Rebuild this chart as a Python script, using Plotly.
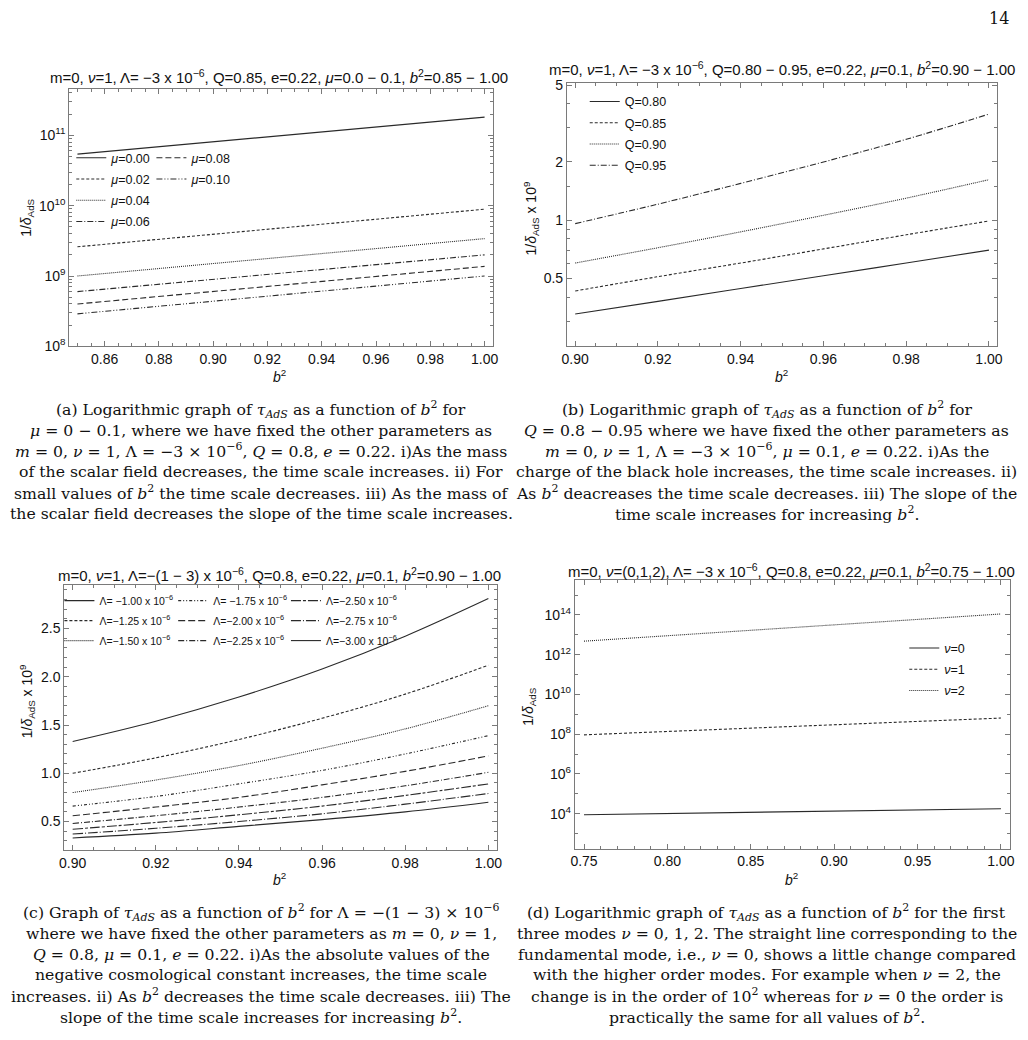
import plotly.graph_objects as go

W, H = 1028, 1040

# ---------------- data ----------------
# (a) mu = 0 - 0.1, log scale
b2_a = [0.85, 0.90, 0.95, 1.00]
mu_labels = ["0.00", "0.02", "0.04", "0.06", "0.08", "0.10"]
a_vals = [
    [5.4e10, 8.1e10, 1.22e11, 1.81e11],
    [2.6e9, 3.9e9, 5.9e9, 8.9e9],
    [1.0e9, 1.5e9, 2.25e9, 3.4e9],
    [6.0e8, 9.0e8, 1.35e9, 2.0e9],
    [4.0e8, 6.0e8, 9.0e8, 1.37e9],
    [2.9e8, 4.4e8, 6.6e8, 1.0e9],
]

# (b) Q = 0.80 - 0.95, log scale, values x 1e9
b2_b = [0.90, 0.92, 0.94, 0.96, 0.98, 1.00]
q_labels = ["0.80", "0.85", "0.90", "0.95"]
b_vals = [
    [0.327, 0.38, 0.443, 0.516, 0.60, 0.70],
    [0.43, 0.51, 0.60, 0.71, 0.84, 0.99],
    [0.60, 0.72, 0.87, 1.06, 1.30, 1.62],
    [0.96, 1.21, 1.55, 2.00, 2.62, 3.54],
]

# (c) Lambda = -(1-3)e-6, linear, values x 1e9
b2_c = [0.90, 0.92, 0.94, 0.96, 0.98, 1.00]
lam_labels = ["−1.00", "−1.25", "−1.50", "−1.75", "−2.00", "−2.25", "−2.50", "−2.75", "−3.00"]
c_vals = [
    [1.33, 1.54, 1.79, 2.08, 2.42, 2.81],
    [1.00, 1.16, 1.35, 1.57, 1.82, 2.12],
    [0.80, 0.93, 1.08, 1.26, 1.46, 1.70],
    [0.66, 0.76, 0.89, 1.03, 1.20, 1.39],
    [0.56, 0.65, 0.75, 0.88, 1.02, 1.18],
    [0.48, 0.56, 0.65, 0.75, 0.87, 1.01],
    [0.42, 0.49, 0.57, 0.66, 0.77, 0.89],
    [0.37, 0.43, 0.50, 0.58, 0.68, 0.79],
    [0.33, 0.38, 0.45, 0.52, 0.60, 0.70],
]

# (d) nu = 0,1,2, log scale
b2_d = [0.75, 0.80, 0.85, 0.90, 0.95, 1.00]
nu_labels = ["0", "1", "2"]
d_vals = [
    [8.9e3, 1.02e4, 1.17e4, 1.35e4, 1.55e4, 1.78e4],
    [9.3e7, 1.38e8, 2.04e8, 2.95e8, 4.37e8, 6.5e8],
    [4.8e12, 8.9e12, 1.7e13, 3.2e13, 6.0e13, 1.12e14],
]

# ---------------- styles ----------------
LINE_COLOR = "#2a2a2a"
FRAME = "#7a7a7a"
SANS = "Liberation Sans, Arial, sans-serif"
SERIF = "DejaVu Serif, Liberation Serif, serif"

dash_a = ["solid", "3px,2px", "1px,1px", "6px,2px,1px,2px", "6px,3px", "6px,2px,1px,2px,1px,2px"]
dash_b = ["solid", "3px,2px", "1px,1px", "6px,2px,1px,2px"]
dash_c = ["solid", "3px,2px", "1px,1px", "3px,2px,1px,2px,1px,2px", "7px,3px",
          "6px,2px,1px,2px", "10px,2px,3px,2px", "10px,2px,1px,2px", "solid"]
dash_d = ["solid", "3px,2px", "1px,1px"]


def px_x(p):
    return p / W


def px_y(p):
    return 1 - p / H


fig = go.Figure()

# (a)
for i, (lab, vals) in enumerate(zip(mu_labels, a_vals)):
    fig.add_trace(go.Scatter(
        x=b2_a, y=vals, mode="lines", name=f"<i>μ</i>={lab}",
        line=dict(color=LINE_COLOR, width=1.1, dash=dash_a[i]),
        xaxis="x", yaxis="y", legend="legend" if i < 4 else "legend2",
        legendgroup=f"a{i}"))
# (b)
for i, (lab, vals) in enumerate(zip(q_labels, b_vals)):
    fig.add_trace(go.Scatter(
        x=b2_b, y=vals, mode="lines", name=f"Q={lab}",
        line=dict(color=LINE_COLOR, width=1.1, dash=dash_b[i], shape="spline"),
        xaxis="x2", yaxis="y2", legend="legend3", legendgroup=f"b{i}"))
# (c)
for i, (lab, vals) in enumerate(zip(lam_labels, c_vals)):
    name = f"Λ={' ' if i == 0 or i == 3 else ''}{lab} x 10<sup>−6</sup>"
    fig.add_trace(go.Scatter(
        x=b2_c, y=vals, mode="lines", name=name,
        line=dict(color=LINE_COLOR, width=1.1, dash=dash_c[i], shape="spline"),
        xaxis="x3", yaxis="y3", legend=["legend4", "legend5", "legend6"][i // 3],
        legendgroup=f"c{i}"))
# (d)
for i, (lab, vals) in enumerate(zip(nu_labels, d_vals)):
    fig.add_trace(go.Scatter(
        x=b2_d, y=vals, mode="lines", name=f"<i>ν</i>={lab}",
        line=dict(color=LINE_COLOR, width=1.1, dash=dash_d[i]),
        xaxis="x4", yaxis="y4", legend="legend7", legendgroup=f"d{i}"))


def ax(**kw):
    base = dict(showline=True, linecolor=FRAME, linewidth=1, mirror="allticks",
                ticks="inside", ticklen=5, tickcolor=FRAME, tickwidth=1,
                showgrid=False, zeroline=False,
                tickfont=dict(family=SANS, size=14, color="#111"))
    base.update(kw)
    return base


def minor(vals):
    return dict(ticks="inside", ticklen=3, tickcolor=FRAME, tickmode="array", tickvals=vals, showgrid=False)


xticks_a = [0.86, 0.88, 0.90, 0.92, 0.94, 0.96, 0.98, 1.00]
xticks_bc = [0.90, 0.92, 0.94, 0.96, 0.98, 1.00]
xticks_d = [0.75, 0.80, 0.85, 0.90, 0.95, 1.00]
ytick_a = [1e8, 1e9, 1e10, 1e11]
ytick_a_text = ["10<sup>8</sup>", "10<sup>9</sup>", "10<sup>10</sup>", "10<sup>11</sup>"]
ytick_b = [0.5, 1, 2, 5]
ytick_b_text = ["0.5", "1", "2", "5"]
ytick_c = [0.5, 1.0, 1.5, 2.0, 2.5]
ytick_d = [1e4, 1e6, 1e8, 1e10, 1e12, 1e14]
ytick_d_text = ["10<sup>4</sup>", "10<sup>6</sup>", "10<sup>8</sup>", "10<sup>10</sup>",
                "10<sup>12</sup>", "10<sup>14</sup>"]

minor_ya = [m * 10 ** e for e in range(8, 12) for m in range(2, 10)]
minor_yb = [0.3, 0.4, 0.6, 0.7, 0.8, 0.9, 1.5, 3, 4]
minor_yd = [10 ** e for e in (3, 5, 7, 9, 11, 13, 15)]
minor_xa = [round(0.85 + 0.005 * k, 3) for k in range(31)]
minor_xbc = [round(0.90 + 0.005 * k, 3) for k in range(21)]
minor_xd = [round(0.75 + 0.01 * k, 3) for k in range(26)]
minor_yc = [round(0.3 + 0.1 * k, 2) for k in range(27)]

fig.update_layout(
    width=W, height=H, margin=dict(l=0, r=0, t=0, b=0),
    paper_bgcolor="white", plot_bgcolor="white",
    xaxis=ax(domain=[px_x(65), px_x(493)], range=[0.847, 1.003], anchor="y",
             tickvals=xticks_a, tickformat=".2f", minor=minor(minor_xa)),
    yaxis=ax(domain=[px_y(345), px_y(84)], type="log", range=[8, 11.66], anchor="x",
             tickvals=ytick_a, ticktext=ytick_a_text, minor=minor(minor_ya)),
    xaxis2=ax(domain=[px_x(568), px_x(1003)], range=[0.898, 1.002], anchor="y2",
              tickvals=xticks_bc, tickformat=".2f", minor=minor(minor_xbc)),
    yaxis2=ax(domain=[px_y(345), px_y(78)], type="log", range=[-0.653, 0.71], anchor="x2",
              tickvals=ytick_b, ticktext=ytick_b_text, minor=minor(minor_yb)),
    xaxis3=ax(domain=[px_x(60), px_x(497)], range=[0.898, 1.002], anchor="y3",
              tickvals=xticks_bc, tickformat=".2f", minor=minor(minor_xbc)),
    yaxis3=ax(domain=[px_y(856), px_y(587)], range=[0.2, 2.95], anchor="x3",
              tickvals=ytick_c, tickformat=".1f", minor=minor(minor_yc)),
    xaxis4=ax(domain=[px_x(576), px_x(1016)], range=[0.7445, 1.0055], anchor="y4",
              tickvals=xticks_d, tickformat=".2f", minor=minor(minor_xd)),
    yaxis4=ax(domain=[px_y(854), px_y(582)], type="log", range=[2.25, 15.75], anchor="x4",
              tickvals=ytick_d, ticktext=ytick_d_text, minor=minor(minor_yd)),
)

leg_common = dict(bgcolor="rgba(0,0,0,0)", borderwidth=0, xanchor="left", yanchor="top",
                  tracegroupgap=2, font=dict(family=SANS, size=12.5, color="#111"))
leg_c = dict(leg_common, tracegroupgap=1, font=dict(family=SANS, size=10.5, color="#111"))
fig.update_layout(
    legend=dict(leg_common, x=px_x(67), y=px_y(139)),
    legend2=dict(leg_common, x=px_x(148), y=px_y(139)),
    legend3=dict(leg_common, x=px_x(586), y=px_y(82)),
    legend4=dict(leg_c, x=px_x(55), y=px_y(588)),
    legend5=dict(leg_c, x=px_x(170), y=px_y(588)),
    legend6=dict(leg_c, x=px_x(284), y=px_y(588)),
    legend7=dict(leg_common, x=px_x(909), y=px_y(636)),
)

ann = []


def text(x, y, s, size=14, font=SANS, angle=0, xanchor="center"):
    ann.append(dict(x=px_x(x), y=px_y(y), xref="paper", yref="paper", text=s,
                    showarrow=False, xanchor=xanchor, yanchor="middle", textangle=angle,
                    font=dict(family=font, size=size, color="#111")))


# titles
text(277, 71, "m=0, <i>ν</i>=1, Λ= −3 x 10<sup>−6</sup>, Q=0.85, e=0.22, <i>μ</i>=0.0 − 0.1, <i>b</i><sup>2</sup>=0.85 − 1.00", size=15)
text(785, 63, "m=0, <i>ν</i>=1, Λ= −3 x 10<sup>−6</sup>, Q=0.80 − 0.95, e=0.22, <i>μ</i>=0.1, <i>b</i><sup>2</sup>=0.90 − 1.00", size=15)
text(277, 576, "m=0, <i>ν</i>=1, Λ=−(1 − 3) x 10<sup>−6</sup>, Q=0.8, e=0.22, <i>μ</i>=0.1, <i>b</i><sup>2</sup>=0.90 − 1.00", size=15)
text(795, 572, "m=0, <i>ν</i>=(0,1,2), Λ= −3 x 10<sup>−6</sup>, Q=0.8, e=0.22, <i>μ</i>=0.1, <i>b</i><sup>2</sup>=0.75 − 1.00", size=15)

# axis titles
text(277, 375, "<i>b</i><sup>2</sup>", size=14)
text(785, 375, "<i>b</i><sup>2</sup>", size=14)
text(277, 885, "<i>b</i><sup>2</sup>", size=14)
text(795, 885, "<i>b</i><sup>2</sup>", size=14)
text(22, 215, "1/<i>δ</i><sub>AdS</sub>", size=14, angle=-90)
text(532, 215, "1/<i>δ</i><sub>AdS</sub> x 10<sup>9</sup>", size=14, angle=-90)
text(22, 705, "1/<i>δ</i><sub>AdS</sub> x 10<sup>9</sup>", size=14, angle=-90)
text(530, 710, "1/<i>δ</i><sub>AdS</sub>", size=14, angle=-90)

# page number
text(1005, 13, "14", size=16, font=SERIF)

tau = "<i>τ<sub>AdS</sub></i>"
b2 = "<i>b</i><sup>2</sup>"
cap_a = [
    f"(a) Logarithmic graph of {tau} as a function of {b2} for",
    "<i>μ</i> = 0 − 0.1, where we have fixed the other parameters as",
    "<i>m</i> = 0, <i>ν</i> = 1, Λ = −3 × 10<sup>−6</sup>, <i>Q</i> = 0.8, <i>e</i> = 0.22. i)As the mass",
    "of the scalar field decreases, the time scale increases. ii) For",
    f"small values of {b2} the time scale decreases. iii) As the mass of",
    "the scalar field decreases the slope of the time scale increases.",
]
cap_b = [
    f"(b) Logarithmic graph of {tau} as a function of {b2} for",
    "<i>Q</i> = 0.8 − 0.95 where we have fixed the other parameters as",
    "<i>m</i> = 0, <i>ν</i> = 1, Λ = −3 × 10<sup>−6</sup>, <i>μ</i> = 0.1, <i>e</i> = 0.22. i)As the",
    "charge of the black hole increases, the time scale increases. ii)",
    f"As {b2} deacreases the time scale decreases. iii) The slope of the",
    f"time scale increases for increasing {b2}.",
]
cap_c = [
    f"(c) Graph of {tau} as a function of {b2} for Λ = −(1 − 3) × 10<sup>−6</sup>",
    "where we have fixed the other parameters as <i>m</i> = 0, <i>ν</i> = 1,",
    "<i>Q</i> = 0.8, <i>μ</i> = 0.1, <i>e</i> = 0.22. i)As the absolute values of the",
    "negative cosmological constant increases, the time scale",
    f"increases. ii) As {b2} decreases the time scale decreases. iii) The",
    f"slope of the time scale increases for increasing {b2}.",
]
cap_d = [
    f"(d) Logarithmic graph of {tau} as a function of {b2} for the first",
    "three modes <i>ν</i> = 0, 1, 2. The straight line corresponding to the",
    "fundamental mode, i.e., <i>ν</i> = 0, shows a little change compared",
    "with the higher order modes. For example when <i>ν</i> = 2, the",
    "change is in the order of 10<sup>2</sup> whereas for <i>ν</i> = 0 the order is",
    f"practically the same for all values of {b2}.",
]
cap_y_top = [409, 430, 451, 472, 493, 514]
cap_y_bot = [919, 940, 961, 982, 1003, 1024]
CAP = 15.7
for s, y in zip(cap_a, cap_y_top):
    text(259, y, s, size=CAP, font=SERIF)
for s, y in zip(cap_b, cap_y_top):
    text(770, y, s, size=CAP, font=SERIF)
for s, y in zip(cap_c, cap_y_bot):
    text(259, y, s, size=CAP, font=SERIF)
for s, y in zip(cap_d, cap_y_bot):
    text(770, y, s, size=CAP, font=SERIF)

fig.update_layout(annotations=ann)
fig.write_html("out.html", config={"displayModeBar": False},
               post_script="document.body.style.margin='0';document.body.style.overflow='hidden';")
